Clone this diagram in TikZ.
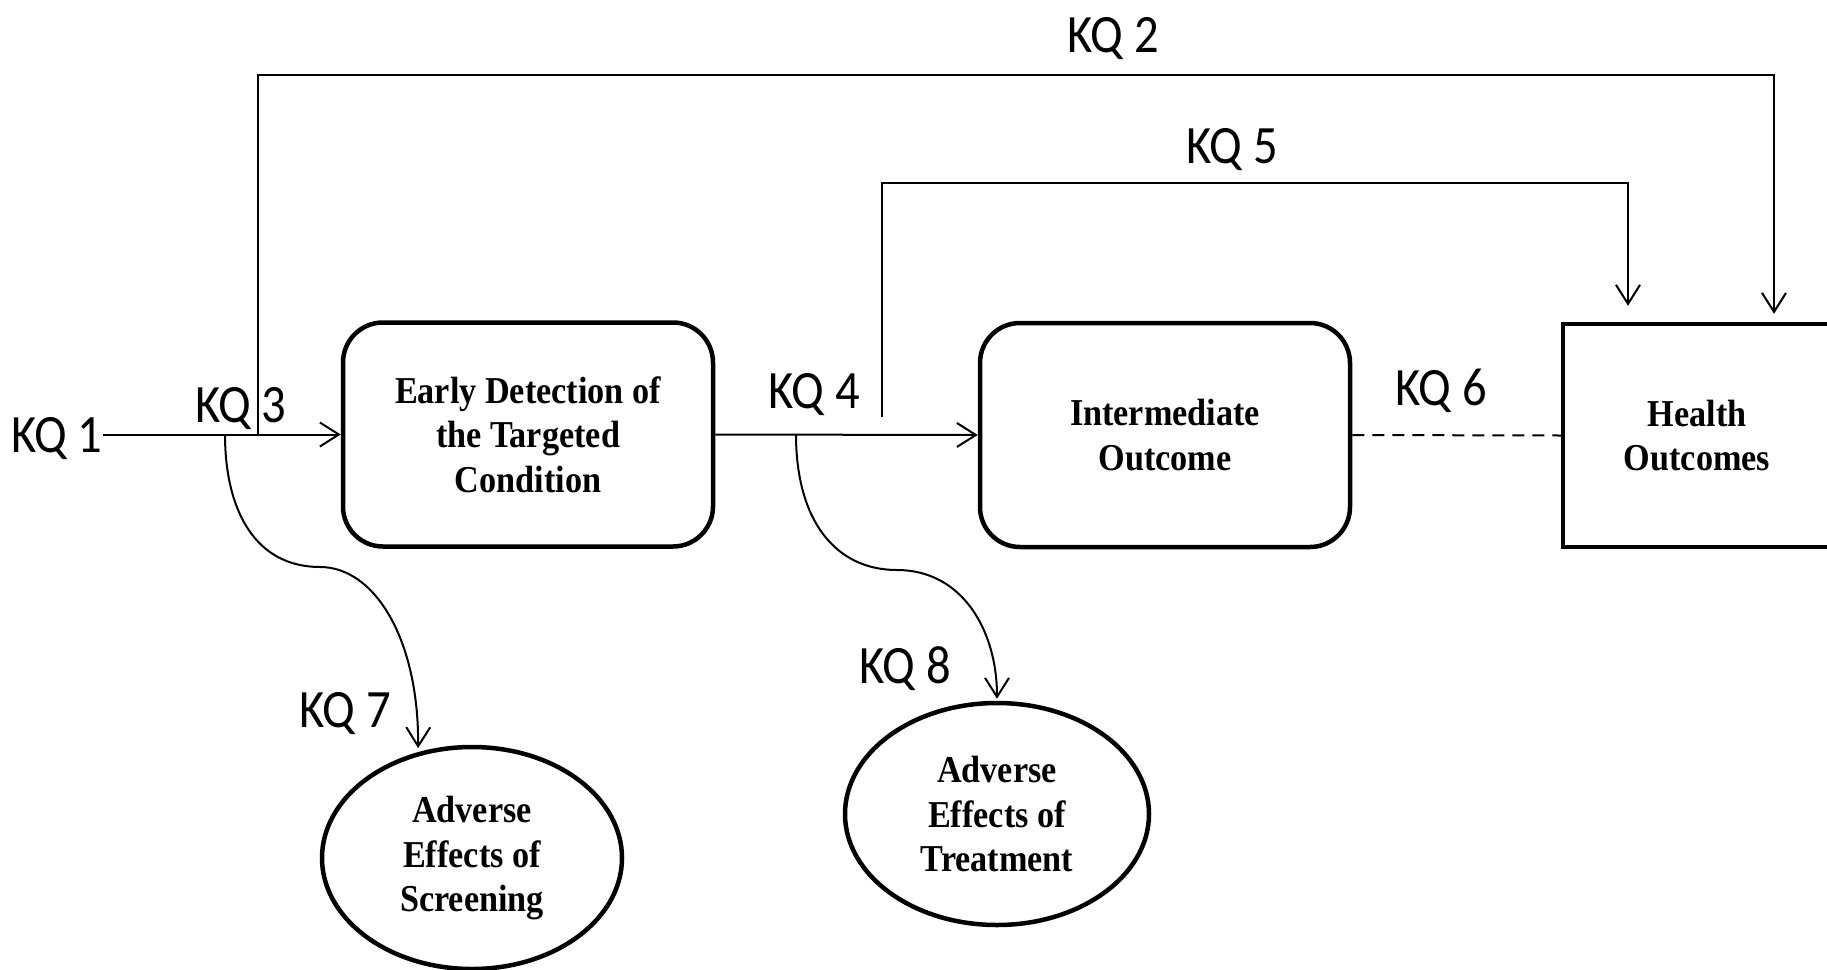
\documentclass[tikz,border=0pt]{standalone}
\usepackage{fontspec}
\usetikzlibrary{arrows.meta,shapes.geometric}
\newfontfamily\kqfont[FakeStretch=0.9]{Carlito}
\newfontfamily\boxfont[FakeStretch=0.9]{Liberation Serif}
\begin{document}
\begin{tikzpicture}[x=1pt,y=-1pt,
  kq/.style={font=\kqfont\fontsize{54}{60}\selectfont, inner sep=0pt, anchor=base},
  boxtext/.style={align=center, font=\boxfont\bfseries\fontsize{38}{44.5}\selectfont},
  rbox/.style={boxtext, draw, line width=4.5pt, rounded corners=40pt, minimum width=370pt, minimum height=224pt},
  hbox/.style={boxtext, draw, line width=4.5pt, minimum width=268pt, minimum height=223pt},
  ebox/.style={boxtext, ellipse, draw, line width=4.5pt, inner sep=0pt, minimum width=300pt, minimum height=222pt},
  conn/.style={line width=2pt},
  arr/.style={conn, -{Straight Barb[length=19pt,width=24pt]}},
]
\clip (0,0) rectangle (1827,969);

% boxes
\node[rbox] (det) at (528,434.5) {Early Detection of\\the Targeted\\Condition};
\node[rbox] (inter) at (1165,435) {Intermediate\\Outcome};
\node[hbox] (health) at (1697,435.5) {Health\\Outcomes};
\node[ebox] (scr) at (472,858) {Adverse\\Effects of\\Screening};
\node[ebox, minimum width=304pt] (trt) at (997,814) {Adverse\\Effects of\\Treatment};

% labels
\node[kq] (kq1) at (57,452) {KQ 1};
\node[kq] (kq2) at (1113,52) {KQ 2};
\node[kq] (kq3) at (241,422) {KQ 3};
\node[kq] (kq4) at (814,408) {KQ 4};
\node[kq] (kq5) at (1232,163) {KQ 5};
\node[kq] (kq6) at (1441,405) {KQ 6};
\node[kq] (kq7) at (345,727) {KQ 7};
\node[kq] (kq8) at (905,683) {KQ 8};

% junction points
\coordinate (j2) at (258,434.5);
\coordinate (j5) at (882,417);
\coordinate (c7) at (225,434.5);
\coordinate (c8) at (796,434.5);

% connectors
\draw[arr] (kq1.east |- det.west) -- (det.west);
\draw[arr] (det.east) -- (inter.west);
\draw[conn, dash pattern=on 12pt off 8pt] (inter.east) -- (health.west);
\draw[arr, shorten >=8pt] (j2) |- (1774,75) -- (1774,75 |- health.north);
\draw[arr, shorten >=16pt] (j5) |- (1628,183) -- (1628,183 |- health.north);
\draw[arr, shorten >=4pt] (c7) .. controls (225,510) and (255,567) .. (320,567)
   .. controls (375,567) and (419,640) .. (scr.117);
\draw[arr, shorten >=2pt] (c8) .. controls (796,520) and (835,570) .. (897,570)
   .. controls (962,570) and (997,630) .. (trt.north);
\end{tikzpicture}
\end{document}
